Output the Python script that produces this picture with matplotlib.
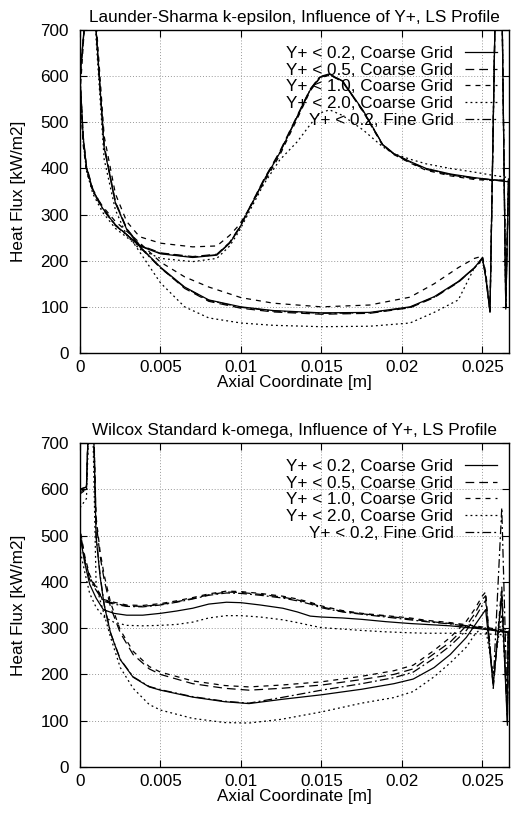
import matplotlib
matplotlib.use('Agg')
import matplotlib.pyplot as plt

plt.rcParams['font.family'] = ['Liberation Sans', 'DejaVu Sans']

labels = ["Y+ < 0.2, Coarse Grid", "Y+ < 0.5, Coarse Grid", "Y+ < 1.0, Coarse Grid",
          "Y+ < 2.0, Coarse Grid", "Y+ < 0.2, Fine Grid"]
titles = ["Launder-Sharma k-epsilon, Influence of Y+, LS Profile",
          "Wilcox Standard k-omega, Influence of Y+, LS Profile"]
xticks = [0, 0.005, 0.01, 0.015, 0.02, 0.025]
xticklabels = ["0", "0.005", "0.01", "0.015", "0.02", "0.025"]
yticks = [0, 100, 200, 300, 400, 500, 600, 700]

# ---------------- Launder-Sharma k-epsilon (top) ----------------
# lower branch (left to right, incl. right-end spike)
ls_low_x = [0.0, 0.0002, 0.0004, 0.0008, 0.0014, 0.0022, 0.0033, 0.005, 0.0065, 0.008, 0.01,
            0.012, 0.015, 0.018, 0.0205, 0.022, 0.0235, 0.0245, 0.025, 0.0252, 0.02547,
            0.0258, 0.0262, 0.02645, 0.02662]
ls_low_y02 = [598, 468, 403, 353, 314, 277, 245, 186, 143, 115, 100, 92, 87, 88, 100, 122, 155,
              185, 206, 165, 88, 760, 800, 95, 371]
ls_low_y05 = [600, 470, 405, 355, 315, 278, 245, 185, 140, 112, 97, 89, 84, 86, 98, 120, 153,
              184, 207, 168, 92, 760, 800, 100, 373]
ls_low_y10 = [560, 450, 395, 350, 318, 285, 252, 197, 165, 143, 120, 108, 100, 104, 121, 150, 185,
              205, 210, 175, 95, 760, 800, 110, 375]
ls_low_y20 = [600, 460, 395, 345, 305, 270, 240, 152, 100, 76, 65, 60, 57, 58, 65, 88, 115,
              185, 200, 170, 90, 760, 800, 105, 380]
ls_low_yfine = [590, 465, 400, 350, 312, 276, 244, 184, 142, 114, 99, 91, 86, 87, 99, 121, 154,
                184, 204, 166, 89, 760, 800, 98, 372]
# upper branch (right to left)
ls_up_x = [0.02662, 0.0255, 0.0245, 0.023, 0.0215, 0.0205, 0.0195, 0.0188, 0.0176, 0.0163,
           0.0155, 0.0149, 0.0143, 0.0135, 0.0124, 0.0114, 0.0106, 0.0099, 0.0093, 0.0085,
           0.007, 0.005, 0.0037, 0.0029, 0.0022, 0.0015, 0.001, 0.0007, 0.0003, 0.0]
ls_up_y02 = [371, 376, 380, 388, 400, 415, 432, 452, 525, 590, 604, 597, 570, 512, 433, 372, 318,
             270, 238, 212, 207, 215, 232, 268, 325, 445, 700, 1000, 720, 598]
ls_up_y05 = [373, 376, 378, 386, 398, 413, 431, 451, 523, 588, 603, 598, 572, 515, 436, 375, 320,
             272, 240, 214, 209, 217, 234, 270, 328, 450, 700, 1000, 720, 600]
ls_up_y10 = [375, 374, 376, 384, 396, 412, 430, 450, 522, 590, 602, 596, 568, 508, 428, 368, 318,
             278, 255, 232, 230, 238, 252, 285, 345, 470, 720, 1000, 720, 560]
ls_up_y20 = [380, 386, 392, 400, 410, 420, 432, 447, 483, 515, 527, 520, 495, 458, 418, 365, 312,
             265, 232, 205, 198, 205, 225, 255, 310, 420, 680, 1000, 720, 600]
ls_up_yfine = [372, 375, 379, 387, 399, 414, 432, 452, 524, 589, 605, 599, 571, 513, 434, 373, 319,
               271, 239, 213, 208, 216, 233, 269, 326, 447, 700, 1000, 720, 590]

# ---------------- Wilcox k-omega (bottom) ----------------
wo_low_x = [0.0, 0.0004, 0.0007, 0.001, 0.00125, 0.0015, 0.0019, 0.0025, 0.0033, 0.0043, 0.005,
            0.007, 0.009, 0.0105, 0.0125, 0.015, 0.0175, 0.0195, 0.0207, 0.022, 0.023, 0.024,
            0.0245, 0.025, 0.0252, 0.02567, 0.0262, 0.02655, 0.0266]
wo_low_y02 = [600, 605, 950, 497, 411, 350, 289, 232, 194, 173, 166, 151, 141, 137, 146, 156, 168,
              180, 190, 215, 243, 280, 305, 330, 340, 178, 370, 90, 290]
wo_low_y05 = [595, 600, 950, 530, 455, 405, 345, 290, 243, 212, 200, 180, 170, 166, 170, 177, 189,
              200, 212, 245, 270, 305, 330, 362, 370, 170, 380, 100, 292]
wo_low_y10 = [590, 600, 950, 540, 465, 415, 355, 296, 250, 217, 205, 186, 176, 173, 177, 184, 196,
              208, 220, 252, 280, 315, 340, 370, 378, 175, 390, 110, 294]
wo_low_y20 = [560, 580, 900, 395, 360, 330, 280, 215, 170, 135, 123, 105, 96, 95, 103, 119, 138,
              150, 163, 195, 225, 259, 285, 303, 300, 200, 330, 130, 285]
wo_low_yfine = [600, 605, 950, 500, 415, 352, 290, 233, 195, 174, 167, 152, 142, 138, 150, 166,
                180, 193, 205, 235, 262, 295, 320, 350, 360, 180, 560, 120, 291]
wo_up_x = [0.0266, 0.0255, 0.0245, 0.023, 0.0215, 0.0205, 0.019, 0.0175, 0.0163, 0.015, 0.0143,
           0.0135, 0.0126, 0.0112, 0.01, 0.0091, 0.008, 0.007, 0.006, 0.005, 0.0039, 0.0029,
           0.0021, 0.00145, 0.001, 0.0006, 0.0003, 0.0]
wo_up_y02 = [290, 296, 300, 305, 308, 310, 314, 319, 322, 324, 326, 335, 343, 350, 355, 356, 352,
             343, 337, 332, 328, 328, 332, 340, 365, 395, 440, 500]
wo_up_y05 = [292, 298, 303, 310, 315, 320, 326, 331, 336, 346, 354, 361, 367, 373, 377, 378, 372,
             364, 357, 351, 347, 348, 354, 360, 385, 410, 450, 510]
wo_up_y10 = [294, 300, 305, 312, 317, 322, 327, 332, 338, 348, 356, 363, 369, 375, 379, 380, 374,
             366, 359, 353, 349, 350, 356, 362, 388, 415, 455, 515]
wo_up_y20 = [285, 287, 288, 289, 289, 290, 292, 295, 298, 301, 306, 312, 318, 324, 327, 327, 322,
             313, 308, 306, 305, 306, 313, 325, 345, 375, 420, 470]
wo_up_yfine = [291, 297, 302, 309, 314, 318, 324, 330, 335, 344, 352, 359, 365, 371, 375, 376, 371,
               363, 356, 350, 346, 347, 352, 358, 382, 405, 445, 505]

styles = ['-', (0, (7, 4)), (0, (4, 4)), (0, (1.5, 2.5)), (0, (7, 2.5, 1.5, 2.5))]

panels = [
    (ls_low_x, [ls_low_y02, ls_low_y05, ls_low_y10, ls_low_y20, ls_low_yfine],
     ls_up_x, [ls_up_y02, ls_up_y05, ls_up_y10, ls_up_y20, ls_up_yfine]),
    (wo_low_x, [wo_low_y02, wo_low_y05, wo_low_y10, wo_low_y20, wo_low_yfine],
     wo_up_x, [wo_up_y02, wo_up_y05, wo_up_y10, wo_up_y20, wo_up_yfine]),
]

W, H = 513, 814
FS = 12.3
fig = plt.figure(figsize=(W / 100, H / 100), dpi=100)
rects = [(80, 30, 509, 353), (80, 443, 509, 767)]

for (lx, lys, ux, uys), title, (x0, y0, x1, y1) in zip(panels, titles, rects):
    ax = fig.add_axes([x0 / W, 1 - y1 / H, (x1 - x0) / W, (y1 - y0) / H])
    for ly, uy, st, lab in zip(lys, uys, styles, labels):
        ax.plot(list(lx) + list(ux), list(ly) + list(uy), color='black', linestyle=st,
                linewidth=0.9, label=lab)
    ax.set_xlim(0, 0.02665)
    ax.set_ylim(0, 700)
    ax.set_xticks(xticks)
    ax.set_xticklabels(xticklabels)
    ax.set_yticks(yticks)
    ax.grid(True, linestyle=(0, (1, 2)), color='#999999', linewidth=0.7)
    ax.set_axisbelow(True)
    ax.tick_params(direction='in', top=True, right=True, length=5, width=0.8,
                   labelsize=FS)
    ax.tick_params(axis='y', pad=8)
    ax.tick_params(axis='x', pad=5)
    for sp in ax.spines.values():
        sp.set_linewidth(1.0)
    ax.set_title(title, fontsize=FS, pad=6)
    ax.set_xlabel("Axial Coordinate [m]", fontsize=FS, labelpad=0)
    ax.set_ylabel("Heat Flux [kW/m2]", fontsize=FS, labelpad=10)
    ax.legend(loc='upper right', bbox_to_anchor=(1 - 12 / 429, 1 - 16 / 323),
              frameon=False, markerfirst=False, fontsize=FS, handlelength=1.9,
              handletextpad=0.65, labelspacing=0.1, borderpad=0, borderaxespad=0)

fig.savefig('out.png', dpi=100)
